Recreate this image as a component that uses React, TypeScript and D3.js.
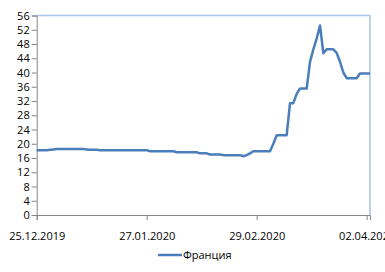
import React, { useEffect, useRef } from 'react';
import * as d3 from 'd3';

// daily values starting 25.12.2019
const startDate = '2019-12-25';
const franceValues = [
  18.2, 18.2, 18.2, 18.2, 18.3, 18.4, 18.5, 18.5, 18.5, 18.5,
  18.5, 18.5, 18.5, 18.5, 18.5, 18.4, 18.3, 18.3, 18.3, 18.2,
  18.2, 18.2, 18.2, 18.2, 18.2, 18.2, 18.2, 18.2, 18.2, 18.2,
  18.2, 18.2, 18.2, 18.2, 17.9, 17.9, 17.9, 17.9, 17.9, 17.9,
  17.9, 17.9, 17.6, 17.6, 17.6, 17.6, 17.6, 17.6, 17.6, 17.3,
  17.3, 17.3, 17.0, 17.0, 17.0, 17.0, 16.8, 16.8, 16.8, 16.8,
  16.8, 16.8, 16.5, 16.8, 17.3, 17.9, 17.9, 17.9, 17.9, 17.9,
  17.9, 20.0, 22.4, 22.4, 22.4, 22.4, 31.4, 31.4, 34.0, 35.5,
  35.5, 35.5, 43.0, 46.5, 49.5, 53.2, 45.4, 46.5, 46.5, 46.5,
  45.5, 43.0, 40.0, 38.4, 38.4, 38.4, 38.4, 39.7, 39.7, 39.7,
  39.7,
];
const yTicks = [0, 4, 8, 12, 16, 20, 24, 28, 32, 36, 40, 44, 48, 52, 56];
const xTickLabels = ['25.12.2019', '27.01.2020', '29.02.2020', '02.04.2020'];
const seriesName = 'Франция';

const parse = d3.timeParse('%Y-%m-%d');
const parseLabel = d3.timeParse('%d.%m.%Y');

const App = () => {
  const ref = useRef<SVGSVGElement>(null);

  useEffect(() => {
    const svg = d3.select(ref.current);
    svg.selectAll('*').remove();

    const start = parse(startDate) as Date;
    const data = franceValues.map((v, i) => ({ date: d3.timeDay.offset(start, i), value: v }));

    const left = 36.7;
    const right = 370;
    const top = 15.5;
    const bottom = 215;

    const x = d3
      .scaleTime()
      .domain([start, data[data.length - 1].date])
      .range([left, right]);

    const y = d3.scaleLinear().domain([0, 56]).range([bottom, top]);

    const font = '"Open Sans", sans-serif';

    // plot area border (top / right)
    svg
      .append('path')
      .attr('d', `M${left},${top}H${right}V${bottom}`)
      .attr('fill', 'none')
      .attr('stroke', '#a9c4e4')
      .attr('stroke-width', 1.5);

    // y axis
    const yAxis = svg
      .append('g')
      .attr('transform', `translate(${left},0)`)
      .call(d3.axisLeft(y).tickValues(yTicks).tickSize(5).tickPadding(2));
    yAxis.select('.domain').attr('stroke', '#868686');
    yAxis.selectAll('.tick line').attr('stroke', '#868686');
    yAxis
      .selectAll('.tick text')
      .attr('fill', '#000')
      .style('font-family', font)
      .style('font-size', '11px');

    // x axis
    const xAxis = svg
      .append('g')
      .attr('transform', `translate(0,${bottom})`)
      .call(
        d3
          .axisBottom(x)
          .tickValues(xTickLabels.map((s) => parseLabel(s) as Date))
          .tickFormat((d) => d3.timeFormat('%d.%m.%Y')(d as Date))
          .tickSize(5)
          .tickPadding(12)
      );
    xAxis.select('.domain').attr('stroke', '#868686');
    xAxis.selectAll('.tick line').attr('stroke', '#868686');
    xAxis
      .selectAll('.tick text')
      .attr('fill', '#000')
      .style('font-family', font)
      .style('font-size', '11px');

    // line
    const line = d3
      .line<{ date: Date; value: number }>()
      .x((d) => x(d.date))
      .y((d) => y(d.value));

    svg
      .append('path')
      .datum(data)
      .attr('d', line)
      .attr('fill', 'none')
      .attr('stroke', '#4a7ebb')
      .attr('stroke-width', 2.5)
      .attr('stroke-linejoin', 'round');

    // legend
    const legend = svg.append('g').attr('transform', 'translate(158,255)');
    legend
      .append('line')
      .attr('x1', 0)
      .attr('x2', 24)
      .attr('stroke', '#4a7ebb')
      .attr('stroke-width', 2.5);
    legend
      .append('text')
      .attr('x', 25)
      .attr('dy', '0.35em')
      .style('font-family', font)
      .style('font-size', '11px')
      .text(seriesName);
  }, []);

  return (
    <svg
      ref={ref}
      width={385}
      height={272}
      style={{ position: 'absolute', left: 0, top: 0, background: '#fff' }}
    />
  );
};

export default App;
